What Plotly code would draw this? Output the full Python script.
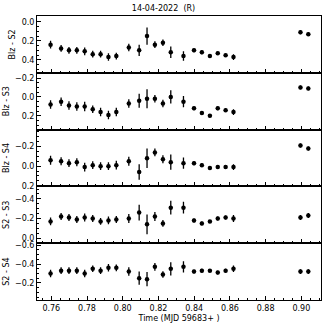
import plotly.graph_objects as go
from plotly.subplots import make_subplots

# tiempos (MJD 59683+)
time = [0.7596, 0.7655, 0.7699, 0.7743, 0.7787, 0.7832, 0.7876, 0.7920, 0.7964,
        0.8034, 0.8092, 0.8136, 0.8180, 0.8225, 0.8269, 0.8340, 0.8399, 0.8443,
        0.8488, 0.8532, 0.8576, 0.8620, 0.8995, 0.9039]

blz_s2 = [0.24, 0.28, 0.30, 0.30, 0.31, 0.34, 0.34, 0.37, 0.36, 0.27, 0.30, 0.15,
          0.24, 0.22, 0.32, 0.36, 0.30, 0.32, 0.36, 0.33, 0.35, 0.37, 0.11, 0.13]
blz_s2_err = [0.04, 0.035, 0.035, 0.035, 0.04, 0.035, 0.035, 0.04, 0.035, 0.04, 0.06, 0.09,
              0.035, 0.035, 0.06, 0.05, 0.02, 0.02, 0.015, 0.015, 0.015, 0.03, 0.02, 0.02]

blz_s3 = [0.08, 0.05, 0.09, 0.10, 0.10, 0.13, 0.16, 0.19, 0.16, 0.07, 0.04, 0.02,
          0.02, 0.07, 0.0, 0.05, 0.12, 0.17, 0.20, 0.12, 0.14, 0.16, -0.10, -0.09]
blz_s3_err = [0.045, 0.045, 0.045, 0.045, 0.05, 0.04, 0.045, 0.045, 0.045, 0.045, 0.075, 0.1,
              0.04, 0.04, 0.07, 0.06, 0.02, 0.02, 0.015, 0.02, 0.02, 0.03, 0.02, 0.02]

blz_s4 = [-0.06, -0.05, -0.03, -0.04, 0.01, -0.01, 0.0, 0.0, -0.01, -0.05, 0.06, -0.08,
          -0.14, -0.07, -0.04, -0.03, -0.03, -0.01, 0.02, 0.01, 0.01, 0.01, -0.21, -0.18]
blz_s4_err = [0.045, 0.04, 0.04, 0.04, 0.045, 0.04, 0.04, 0.04, 0.045, 0.045, 0.078, 0.1,
              0.04, 0.04, 0.078, 0.058, 0.02, 0.02, 0.015, 0.015, 0.015, 0.03, 0.02, 0.02]

s2_s3 = [-0.17, -0.22, -0.21, -0.19, -0.21, -0.20, -0.17, -0.18, -0.19, -0.20, -0.26, -0.14,
         -0.22, -0.15, -0.31, -0.31, -0.18, -0.15, -0.17, -0.20, -0.21, -0.20, -0.21, -0.23]
s2_s3_err = [0.04, 0.035, 0.035, 0.035, 0.04, 0.035, 0.035, 0.04, 0.035, 0.045, 0.08, 0.1,
             0.045, 0.035, 0.07, 0.06, 0.02, 0.02, 0.015, 0.02, 0.02, 0.035, 0.025, 0.025]

s2_s4 = [-0.30, -0.33, -0.33, -0.33, -0.30, -0.35, -0.33, -0.36, -0.36, -0.32, -0.25, -0.24,
         -0.37, -0.29, -0.35, -0.37, -0.32, -0.33, -0.33, -0.31, -0.33, -0.35, -0.32, -0.32]
s2_s4_err = [0.04, 0.035, 0.035, 0.035, 0.04, 0.035, 0.035, 0.04, 0.035, 0.045, 0.07, 0.075,
             0.04, 0.035, 0.07, 0.06, 0.02, 0.02, 0.015, 0.02, 0.02, 0.035, 0.025, 0.025]

series = [
    ("Blz - S2", blz_s2, blz_s2_err, [0.535, -0.06]),
    ("Blz - S3", blz_s3, blz_s3_err, [0.345, -0.255]),
    ("Blz - S4", blz_s4, blz_s4_err, [0.207, -0.373]),
    ("S2 - S3", s2_s3, s2_s3_err, [0.052, -0.527]),
    ("S2 - S4", s2_s4, s2_s4_err, [-0.02, -0.62]),
]

fig = make_subplots(rows=5, cols=1, shared_xaxes=True, vertical_spacing=0)

for i, (name, vals, errs, rng) in enumerate(series, start=1):
    fig.add_trace(go.Scatter(
        x=time, y=vals,
        mode="markers",
        marker=dict(color="black", size=4.5),
        error_y=dict(type="data", array=errs, color="black", thickness=1.3, width=0),
        showlegend=False,
    ), row=i, col=1)
    fig.update_yaxes(
        range=rng, dtick=0.2, tickformat=".1f",
        ticks="inside", ticklen=4, tickcolor="black",
        minor=dict(ticks="inside", ticklen=2, dtick=0.05, tickcolor="black"),
        showline=True, linecolor="black", linewidth=1, mirror=True,
        showgrid=False, zeroline=False,
        title=dict(text=name, font=dict(size=8), standoff=4),
        tickfont=dict(size=8),
        row=i, col=1,
    )
    fig.update_xaxes(
        range=[0.752, 0.911], dtick=0.02, tick0=0.76, tickformat=".2f",
        ticks="inside", ticklen=4, tickcolor="black",
        minor=dict(ticks="inside", ticklen=2, dtick=0.005, tickcolor="black"),
        showline=True, linecolor="black", linewidth=1, mirror=True,
        showgrid=False, zeroline=False,
        tickfont=dict(size=8),
        row=i, col=1,
    )

fig.update_xaxes(title=dict(text="Time (MJD 59683+ )", font=dict(size=8), standoff=3), row=5, col=1)

fig.update_layout(
    width=327, height=327,
    margin=dict(l=34, r=5, t=16, b=27),
    title=dict(text="14-04-2022  (R)", x=0.5, xanchor="center", y=0.985, yanchor="top",
               font=dict(size=8, color="black")),
    font=dict(family="DejaVu Sans", color="black"),
    plot_bgcolor="white",
    paper_bgcolor="white",
)

# quitar el margen del body para que la figura quepa en la ventana
fig.write_html("out.html", config={"displayModeBar": False},
               post_script="document.body.style.margin='0';")
